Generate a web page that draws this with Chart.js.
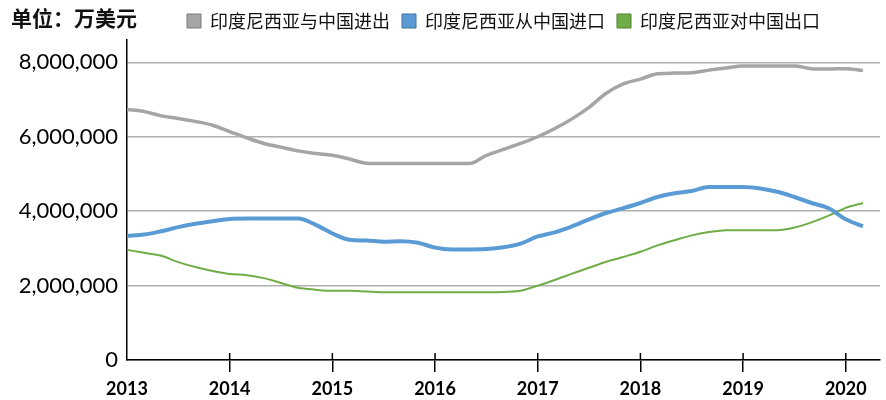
<!DOCTYPE html>
<html>
<head>
<meta charset="utf-8">
<script src="https://cdn.jsdelivr.net/npm/chart.js@4/dist/chart.umd.min.js"></script>
<style>
  body { margin: 0; background: #fff; }
  #wrap { width: 886px; height: 400px; position: relative; }
</style>
</head>
<body>
<div id="wrap"><canvas id="trade-chart"></canvas></div>
<script>
// bi-monthly points, Jan 2013 .. Mar 2020 (last slot is empty room on the axis)
const months = [
  '2013-01', '2013-03', '2013-05', '2013-07', '2013-09', '2013-11',
  '2014-01', '2014-03', '2014-05', '2014-07', '2014-09', '2014-11',
  '2015-01', '2015-03', '2015-05', '2015-07', '2015-09', '2015-11',
  '2016-01', '2016-03', '2016-05', '2016-07', '2016-09', '2016-11',
  '2017-01', '2017-03', '2017-05', '2017-07', '2017-09', '2017-11',
  '2018-01', '2018-03', '2018-05', '2018-07', '2018-09', '2018-11',
  '2019-01', '2019-03', '2019-05', '2019-07', '2019-09', '2019-11',
  '2020-01', '2020-03', '2020-05'
];

const seriesNames = ['印度尼西亚与中国进出', '印度尼西亚从中国进口', '印度尼西亚对中国出口'];

const totalTrade = [
  6730000, 6680000, 6560000, 6490000, 6410000, 6310000,
  6140000, 5970000, 5820000, 5720000, 5620000, 5550000,
  5500000, 5400000, 5290000, 5280000, 5280000, 5280000,
  5280000, 5280000, 5280000, 5500000, 5660000, 5820000,
  6000000, 6220000, 6480000, 6790000, 7170000, 7420000,
  7550000, 7690000, 7710000, 7720000, 7790000, 7850000,
  7900000, 7900000, 7900000, 7900000, 7830000, 7820000,
  7830000, 7780000
];

const importsFromChina = [
  3340000, 3370000, 3460000, 3570000, 3660000, 3730000,
  3790000, 3800000, 3800000, 3800000, 3800000, 3640000,
  3400000, 3230000, 3210000, 3180000, 3190000, 3150000,
  3020000, 2970000, 2970000, 2980000, 3030000, 3130000,
  3320000, 3430000, 3590000, 3780000, 3950000, 4080000,
  4220000, 4380000, 4480000, 4540000, 4650000, 4650000,
  4650000, 4610000, 4520000, 4380000, 4220000, 4080000,
  3780000, 3590000
];

const exportsToChina = [
  2960000, 2880000, 2800000, 2630000, 2500000, 2390000,
  2310000, 2280000, 2200000, 2070000, 1940000, 1890000,
  1860000, 1860000, 1840000, 1820000, 1820000, 1820000,
  1820000, 1820000, 1820000, 1820000, 1830000, 1860000,
  2000000, 2150000, 2320000, 2480000, 2640000, 2770000,
  2910000, 3080000, 3220000, 3350000, 3440000, 3490000,
  3490000, 3490000, 3490000, 3560000, 3700000, 3880000,
  4090000, 4220000
];

const yTicks = [0, 2000000, 4000000, 6000000, 8000000];

const lineColors = ['#a5a5a5', '#5b9bd5', '#70ad47'];
const boxEdges = ['#7a7a7a', '#41719c', '#507e32'];

const isYearStart = (i) => months[i] && months[i].endsWith('-01');

// unit label top-left + the part of year ticks that pokes above the axis
const extras = {
  id: 'extras',
  afterDraw(chart) {
    const ctx = chart.ctx;
    const xs = chart.scales.x;
    const bottom = chart.chartArea.bottom;
    ctx.save();
    ctx.strokeStyle = '#000';
    ctx.lineWidth = 1.5;
    months.forEach((m, i) => {
      if (i === 0 || !isYearStart(i)) return;
      const x = xs.getPixelForTick(i);
      ctx.beginPath();
      ctx.moveTo(x, bottom - 7);
      ctx.lineTo(x, bottom);
      ctx.stroke();
    });
    ctx.fillStyle = '#111';
    ctx.font = 'bold 21px "Noto Sans CJK SC"';
    ctx.textBaseline = 'middle';
    ctx.fillText('单位：万美元', 11, 18);
    ctx.restore();
  }
};

const ctx = document.getElementById('trade-chart').getContext('2d');
new Chart(ctx, {
  type: 'line',
  data: {
    labels: months,
    datasets: [
      { label: seriesNames[0], data: totalTrade, borderColor: lineColors[0], borderWidth: 3.5 },
      { label: seriesNames[1], data: importsFromChina, borderColor: lineColors[1], borderWidth: 4 },
      { label: seriesNames[2], data: exportsToChina, borderColor: lineColors[2], borderWidth: 2 }
    ]
  },
  options: {
    responsive: true,
    maintainAspectRatio: false,
    animation: false,
    layout: { padding: { left: 0, right: 3, top: 0, bottom: 0 } },
    elements: {
      point: { radius: 0 },
      line: { tension: 0.4, cubicInterpolationMode: 'monotone', fill: false }
    },
    plugins: {
      tooltip: { enabled: false },
      legend: {
        position: 'top',
        fullSize: false,
        labels: {
          boxWidth: 14,
          boxHeight: 14,
          padding: 12,
          color: '#111',
          font: { family: '"Noto Sans CJK SC"', size: 18 },
          generateLabels: (chart) => chart.data.datasets.map((ds, i) => ({
            text: ds.label,
            fillStyle: lineColors[i],
            strokeStyle: boxEdges[i],
            lineWidth: 1,
            hidden: false,
            datasetIndex: i,
            fontColor: '#111'
          }))
        }
      }
    },
    scales: {
      x: {
        type: 'category',
        offset: false,
        afterFit: (scale) => { scale.height = 40; },
        border: { display: true, color: '#000', width: 1.5 },
        grid: {
          drawOnChartArea: false,
          drawTicks: true,
          tickLength: 12,
          lineWidth: 1.5,
          color: (c) => (c.index > 0 && isYearStart(c.index)) ? '#000' : 'rgba(0,0,0,0)'
        },
        ticks: {
          autoSkip: false,
          maxRotation: 0,
          padding: 6,
          color: '#000',
          font: { family: 'Lato', size: 18, weight: 'bold' },
          callback: (val, i) => isYearStart(i) ? months[i].slice(0, 4) : ''
        }
      },
      y: {
        min: 0,
        max: 8600000,
        afterFit: (scale) => { scale.width = 127; },
        afterBuildTicks: (scale) => { scale.ticks = yTicks.map(v => ({ value: v })); },
        border: { display: true, color: '#000', width: 1.5 },
        grid: { color: '#b0b0b0', lineWidth: 1.5, drawTicks: false },
        ticks: {
          padding: 9,
          color: '#000',
          font: { family: 'Lato', size: 22 },
          callback: (v) => v.toLocaleString('en-US')
        }
      }
    }
  },
  plugins: [extras]
});
</script>
</body>
</html>
